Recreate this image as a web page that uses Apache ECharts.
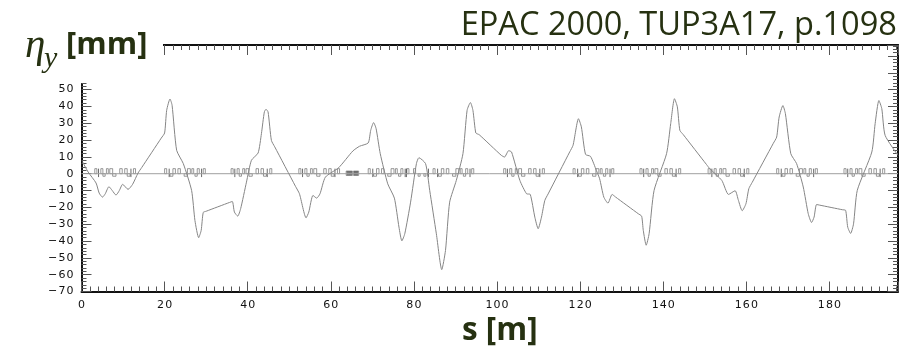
<!DOCTYPE html>
<html>
<head>
<meta charset="utf-8">
<style>
  html, body { margin: 0; padding: 0; background: #fff; }
  #chart { width: 907px; height: 346px; }
</style>
<script src="https://cdn.jsdelivr.net/npm/echarts@6/dist/echarts.min.js"></script>
</head>
<body>
<div id="chart"></div>
<script>
const sValues = [0.2,1.6,3.5,4.25,5.05,5.7,6.6,7.4,8.3,9.1,9.9,11.2,12.3,13.6,14.5,19.2,20,20.5,21.3,21.8,22.9,24.5,26.5,27.3,28.2,28.8,29.3,30,35.6,36.3,36.8,37.6,38.3,39.7,40.9,42.5,43.3,44,44.4,44.9,45.7,46.5,51.5,52.45,54.05,54.7,55.7,56.6,57.4,58.7,61.9,65.3,66.9,69,69.6,70.3,70.9,71.9,73.7,75.3,76.4,77.1,77.8,79.2,80.6,81.2,82.8,83.8,85.4,86.7,87.6,88.6,90.2,91.8,92.8,93.6,94.2,94.9,95.7,101,101.8,102.8,103.5,105.5,107.1,108,109.1,109.9,110.7,111.5,112.3,117.5,118.3,119.6,120.3,121.3,122.5,123.9,124.7,125.7,126.7,127.7,128.5,134,134.8,135.2,135.9,136.6,137.8,140.8,141.8,142.7,143.4,144,144.8,150.4,151.2,154.1,155.7,157.3,158.1,159,159.9,160.6,161.4,166.5,167.3,167.9,168.8,169.4,170.7,172.1,173.7,174.9,175.7,176.3,176.9,177.7,183.1,183.9,184.4,185.1,185.8,186.7,190.2,191,191.9,192.6,193.4,196.5]
const etaValues = [7.3,1,-5.5,-11.5,-13.9,-12,-7.7,-10,-12.7,-10,-6.3,-9.3,-6.3,0.4,3.7,21.2,24.2,37.7,44.4,40.7,13.9,6,-10,-27.8,-38,-33.7,-23,-22.3,-17.1,-16.5,-22.8,-25.2,-20.8,-5,8,12.3,23.8,36.7,38.3,36.7,19.8,16,-7.5,-11.9,-26.2,-22.8,-12.9,-14.5,-11.9,-2,3.6,13.5,16.3,18.3,25.8,30.4,26.8,11.9,-6,-14.5,-31.7,-39.9,-35.7,-16.9,6,9.5,6,-9.9,-35.7,-57,-45.6,-16.9,-4,11.9,37.7,42.3,37.7,24.2,23.2,11,9.9,13.7,12.9,-4,-11.9,-12.3,-25.8,-32.7,-25.8,-15.9,-12,13,16.9,32.7,27.8,11.5,10.3,2,-3,-13.9,-17.5,-12.3,-13.8,-23.8,-25.2,-33.7,-42.5,-35.7,-9.9,11.9,29.8,44.6,39.7,25.8,23.3,5.5,3,-4,-12.3,-10.1,-15.9,-22,-17.9,-8.9,-5.2,18.1,21.8,33.7,40.5,35.7,11.9,6,-7.9,-23.8,-29,-25.8,-18.3,-18.7,-21.4,-21.8,-31.7,-35.5,-29.8,-9.9,12.9,29.8,43.5,38.7,22.8,10.9]

// magnet lattice: one cell pattern, some cells run backwards
const cellStarts = [3.2,20,36,52.3,69,84.6,101.6,118.3,134.4,150.8,167.3,183.5]
const cellFlipped = [false,true,false,false,true,true,false,true,false,false,true,false]
const cellLength = 9.8
const cellBoxes = [[0,0.5],[1.45,1.95],[1.95,2.5],[2.8,3.25],[3.6,4.3],[4.3,5.1],[6,6.6],[7.2,7.8],[7.8,8.5],[9.3,9.8]]
const cellTicks = [0.9,8.7]
const denseBoxes = [[63.7,63.95],[63.95,64.2],[64.2,64.45],[64.45,64.7],[64.7,64.95],[64.95,65.2],[65.45,65.7],[65.7,65.95],[65.95,66.2],[66.2,66.45],[66.45,66.7]]
const extraBoxes = [[79.9,80.4]]
const extraLowBoxes = [[81,81.5],[82.4,82.9]]
const extraTicks = [78.2,83.5]

const xMax = 196.5
const titleText = 'EPAC 2000, TUP3A17, p.1098'
const xAxisName = 's [m]'

const boxes = extraBoxes.map((b) => [b[0], b[1], 0, 3])
extraLowBoxes.forEach((b) => boxes.push([b[0], b[1], -1.5, 0]))
denseBoxes.forEach((b) => boxes.push([b[0], b[1], -1, 1.6]))
const ticks = extraTicks.slice()
cellStarts.forEach((start, i) => {
  const pos = (v) => start + (cellFlipped[i] ? cellLength - v : v)
  cellBoxes.forEach((b, j) => {
    const a = pos(b[0]), c = pos(b[1])
    if (j % 3 === 2) boxes.push([Math.min(a, c), Math.max(a, c), -1.5, 0])
    else boxes.push([Math.min(a, c), Math.max(a, c), 0, 3])
  })
  cellTicks.forEach((t) => ticks.push(pos(t)))
})

const curve = sValues.map((s, i) => [s, etaValues[i]])
const textColor = '#263111'

// the plot labels are wide-set, with a long minus
const spaced = (v) => String(v).replace('-', '\u2212').split('').join('\u200a')

const axisBase = {
  axisLine: { onZero: false, lineStyle: { color: '#111', width: 2 } },
  axisTick: { inside: true, length: 10, lineStyle: { color: '#555', width: 1 } },
  minorTick: { show: true, length: 5, lineStyle: { color: '#555', width: 1 } },
  splitLine: { show: false },
}
const xAxisBase = Object.assign({}, axisBase, {
  type: 'value', min: 0, max: xMax, interval: 20,
  minorTick: Object.assign({}, axisBase.minorTick, { splitNumber: 10 }),
})
const yAxisBase = Object.assign({}, axisBase, {
  type: 'value', min: -70, max: 76.5, interval: 10,
  minorTick: Object.assign({}, axisBase.minorTick, { splitNumber: 5 }),
})
const tickLabel = {
  color: '#111', fontFamily: 'DejaVu Sans', fontSize: 11, formatter: spaced,
}

const chart = echarts.init(document.getElementById('chart'))
chart.setOption({
  animation: false,
  grid: { left: 81.5, right: 9, top: 45, bottom: 54.5 },
  xAxis: [
    Object.assign({}, xAxisBase, {
      position: 'bottom',
      axisLabel: Object.assign({}, tickLabel, { margin: 8, showMaxLabel: false }),
    }),
    Object.assign({}, xAxisBase, { position: 'top', axisLabel: { show: false } }),
  ],
  yAxis: [
    Object.assign({}, yAxisBase, {
      position: 'left',
      axisLabel: Object.assign({}, tickLabel, { margin: 8, padding: [6, 0, 0, 0] }),
    }),
    Object.assign({}, yAxisBase, { position: 'right', axisLabel: { show: false } }),
  ],
  series: [
    {
      name: 'zero',
      type: 'line',
      data: [[0, 0], [xMax, 0]],
      symbol: 'none',
      lineStyle: { color: '#a0a0a0', width: 1 },
    },
    {
      name: 'magnets',
      type: 'custom',
      data: boxes,
      encode: { x: [0, 1], y: [2, 3] },
      renderItem(params, api) {
        const p0 = api.coord([api.value(0), api.value(3)])
        const p1 = api.coord([api.value(1), api.value(2)])
        return {
          type: 'rect',
          shape: { x: p0[0], y: p0[1], width: p1[0] - p0[0], height: p1[1] - p0[1] },
          style: { fill: 'none', stroke: '#555', lineWidth: 0.6 },
        }
      },
    },
    {
      name: 'kicks',
      type: 'custom',
      data: ticks.map((t) => [t]),
      encode: { x: 0 },
      renderItem(params, api) {
        const p0 = api.coord([api.value(0), 3])
        const p1 = api.coord([api.value(0), -2])
        return {
          type: 'line',
          shape: { x1: p0[0], y1: p0[1], x2: p1[0], y2: p1[1] },
          style: { stroke: '#444', lineWidth: 0.8 },
        }
      },
    },
    {
      name: 'eta_y',
      type: 'line',
      data: curve,
      symbol: 'none',
      smooth: 0.2,
      lineStyle: { color: '#858585', width: 1 },
    },
  ],
  graphic: [
    // label patch hides the corner of the frame, same as the source slide
    { type: 'rect', z: 100, shape: { x: 0, y: 0, width: 163, height: 83 }, style: { fill: '#fff' } },
    { type: 'rect', z: 100, shape: { x: 163, y: 0, width: 744, height: 43.5 }, style: { fill: '#fff' } },
    {
      type: 'text', z: 101, right: 10, top: 9,
      style: { text: titleText, fill: textColor, font: '32.6px "Open Sans", "Noto Sans", sans-serif' },
    },
    {
      type: 'text', z: 101, left: 25, top: 26,
      style: { text: 'η', fill: textColor, font: 'italic 41px "Liberation Serif", serif' },
    },
    {
      type: 'text', z: 101, left: 44, top: 44,
      style: { text: 'y', fill: textColor, font: 'italic 30px "Liberation Serif", serif' },
    },
    {
      type: 'text', z: 101, left: 66, top: 30,
      style: { text: '[mm]', fill: textColor, font: 'bold 31px "Open Sans", "Noto Sans", sans-serif' },
    },
    {
      type: 'text', z: 101, left: 462, top: 315,
      style: { text: xAxisName, fill: textColor, font: 'bold 31.5px "Open Sans", "Noto Sans", sans-serif' },
    },
  ],
})
</script>
</body>
</html>
